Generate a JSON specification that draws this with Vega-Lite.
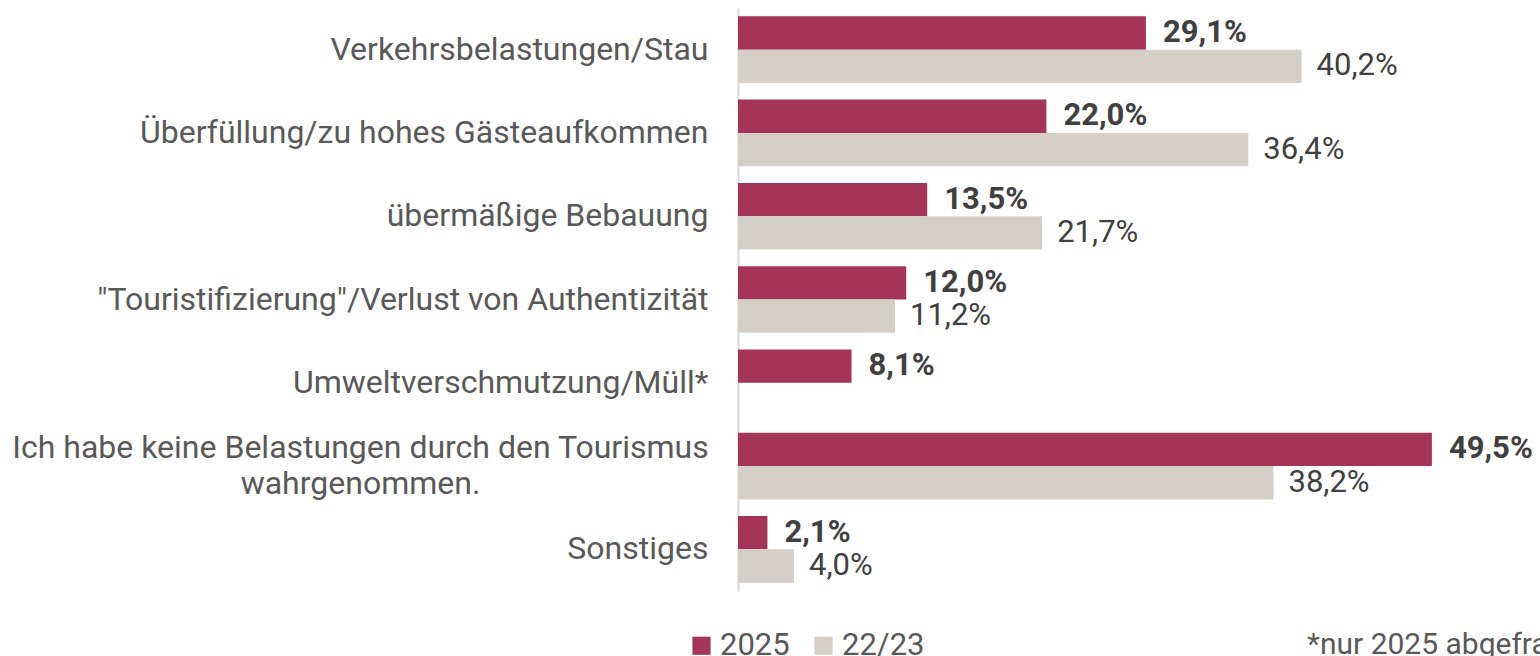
{
  "$schema": "https://vega.github.io/schema/vega-lite/v6.json",
  "width": 771,
  "height": 583,
  "autosize": {"type": "none"},
  "padding": {"left": 738, "top": 8, "right": 31, "bottom": 65},
  "config": {
    "font": "Roboto",
    "view": {"stroke": null},
    "locale": {"number": {"decimal": ",", "thousands": ".", "grouping": [3], "currency": ["", " €"]}}
  },
  "title": {
    "text": "*nur 2025 abgefragt",
    "orient": "bottom",
    "anchor": "start",
    "frame": "group",
    "dx": 569,
    "offset": -31,
    "fontSize": 30,
    "fontWeight": "normal",
    "color": "#595959",
    "font": "Roboto"
  },
  "data": {
    "values": [
      {"kategorie": "Verkehrsbelastungen/Stau", "jahr": "2025", "wert": 0.291},
      {"kategorie": "Verkehrsbelastungen/Stau", "jahr": "22/23", "wert": 0.402},
      {"kategorie": "Überfüllung/zu hohes Gästeaufkommen", "jahr": "2025", "wert": 0.220},
      {"kategorie": "Überfüllung/zu hohes Gästeaufkommen", "jahr": "22/23", "wert": 0.364},
      {"kategorie": "übermäßige Bebauung", "jahr": "2025", "wert": 0.135},
      {"kategorie": "übermäßige Bebauung", "jahr": "22/23", "wert": 0.217},
      {"kategorie": "\"Touristifizierung\"/Verlust von Authentizität", "jahr": "2025", "wert": 0.120},
      {"kategorie": "\"Touristifizierung\"/Verlust von Authentizität", "jahr": "22/23", "wert": 0.112},
      {"kategorie": "Umweltverschmutzung/Müll*", "jahr": "2025", "wert": 0.081},
      {"kategorie": "Ich habe keine Belastungen durch den Tourismus wahrgenommen.", "jahr": "2025", "wert": 0.495},
      {"kategorie": "Ich habe keine Belastungen durch den Tourismus wahrgenommen.", "jahr": "22/23", "wert": 0.382},
      {"kategorie": "Sonstiges", "jahr": "2025", "wert": 0.021},
      {"kategorie": "Sonstiges", "jahr": "22/23", "wert": 0.040}
    ]
  },
  "encoding": {
    "y": {
      "field": "kategorie",
      "type": "nominal",
      "sort": null,
      "scale": {"paddingInner": 0.2, "paddingOuter": 0.1},
      "axis": {
        "title": null,
        "ticks": false,
        "domain": true,
        "domainColor": "#d9d9d9",
        "domainWidth": 2,
        "labelFontSize": 32,
        "labelColor": "#595959",
        "labelLimit": 800,
        "labelLineHeight": 36,
        "labelExpr": "datum.label == 'Ich habe keine Belastungen durch den Tourismus wahrgenommen.' ? ['Ich habe keine Belastungen durch den Tourismus', 'wahrgenommen.'] : datum.label",
        "labelAlign": {"condition": {"test": "indexof(datum.value, 'Ich habe') == 0", "value": "center"}, "value": "right"},
        "labelPadding": {"condition": {"test": "indexof(datum.value, 'Ich habe') == 0", "value": 378}, "value": 30},
        "labelOffset": {"condition": {"test": "indexof(datum.value, 'Ich habe') == 0", "value": -18}, "value": 0}
      }
    },
    "yOffset": {"field": "jahr", "type": "nominal", "sort": ["2025", "22/23"], "scale": {"paddingInner": 0}},
    "x": {"field": "wert", "type": "quantitative", "scale": {"domain": [0, 0.55], "nice": false}, "axis": null}
  },
  "layer": [
    {
      "mark": {"type": "bar"},
      "encoding": {
        "color": {
          "field": "jahr",
          "type": "nominal",
          "sort": ["2025", "22/23"],
          "scale": {"domain": ["2025", "22/23"], "range": ["#A53558", "#D4CFC9"]},
          "legend": {
            "title": null,
            "orient": "none",
            "direction": "horizontal",
            "legendX": -52,
            "legendY": 622,
            "symbolType": "square",
            "symbolSize": 330,
            "symbolStrokeWidth": 0,
            "symbolOpacity": 1,
            "labelFontSize": 31,
            "labelColor": "#595959",
            "labelOffset": 3,
            "columnPadding": 18
          }
        }
      }
    },
    {
      "transform": [{"filter": "datum.jahr == '2025'"}],
      "mark": {"type": "text", "align": "left", "baseline": "middle", "dx": 17, "fontSize": 31, "fontWeight": "bold", "color": "#404040"},
      "encoding": {"text": {"field": "wert", "type": "quantitative", "format": ".1%"}}
    },
    {
      "transform": [{"filter": "datum.jahr == '22/23'"}],
      "mark": {"type": "text", "align": "left", "baseline": "middle", "dx": 15, "fontSize": 31, "color": "#404040"},
      "encoding": {"text": {"field": "wert", "type": "quantitative", "format": ".1%"}}
    }
  ]
}
